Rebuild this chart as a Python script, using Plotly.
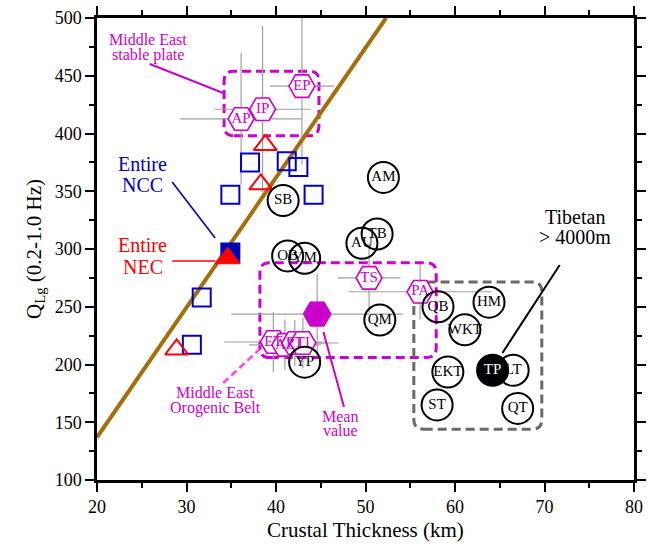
import plotly.graph_objects as go

# ---------------- data ----------------
# Blue open squares (NCC sub-regions)
ncc_x = [37.1, 41.2, 42.5, 44.2, 34.9, 31.7, 30.6]
ncc_y = [375, 376, 371, 347, 347, 258, 217]
# Red open triangles (NEC sub-regions)
nec_x = [38.8, 38.3, 28.9]
nec_y = [390, 356, 213]
# Entire NCC / NEC
entire_ncc = (34.9, 297)
entire_nec = (34.6, 292)

# Middle East stable plate (hexagons)
msp_labels = ["AP", "IP", "EP"]
msp_x = [36.1, 38.5, 42.9]
msp_y = [412.6, 421, 441]
msp_xerr = [6.8, 5.4, 3.6]
msp_yerr = [57, 72, 68]

# Middle East orogenic belt (hexagons)
mob_labels = ["TS", "PA", "ET", "AZ", "PT", "TI"]
mob_x = [50.4, 56.1, 39.7, 41.0, 42.1, 43.0]
mob_y = [275, 263, 219.5, 217, 218.6, 218.6]
mob_xerr = [3.5, 8.0, 5.5, 4.0, 3.5, 4.0]
mob_yerr = [30, 24, 26, 22, 20, 22]

# Mean value
mean_x, mean_y = 44.6, 243.7
mean_xerr, mean_yerr = 9.6, 35

# Chinese regions (circles)
circ_labels = ["AM", "SB", "AU", "TB", "OB", "YM", "QM", "YP",
               "QB", "HM", "WKT", "EKT", "LT", "ST", "QT"]
circ_x = [52.0, 40.8, 49.6, 51.3, 41.3, 43.2, 51.6, 43.2,
          58.1, 63.8, 61.1, 59.2, 66.5, 58.0, 67.0]
circ_y = [362, 342, 305, 313, 294, 292, 238.5, 202,
          250, 254, 230, 193.5, 195, 165, 162]
tp_x, tp_y = 64.2, 195

# Fitted line endpoints
fit_x = [20, 52.3]
fit_y = [137, 500]

# Grouping boxes: (x0, x1, y0, y1)
box_stable = (34.2, 44.8, 398, 454)
box_orogen = (38.2, 57.9, 206, 288)
box_tibet = (55.4, 69.7, 144, 271.5)

FONT = "Liberation Serif"
MAG = "rgb(204,0,204)"
BLUE = "rgb(0,0,200)"
RED = "rgb(255,0,0)"
GRAY = "rgb(160,160,160)"

fig = go.Figure()

# error bars (drawn first, beneath everything)
fig.add_trace(go.Scatter(
    x=msp_x + mob_x + [mean_x], y=msp_y + mob_y + [mean_y], mode="markers",
    marker=dict(size=1, opacity=0),
    error_x=dict(type="data", array=msp_xerr + mob_xerr + [mean_xerr], color=GRAY, thickness=1.2, width=0),
    error_y=dict(type="data", array=msp_yerr + mob_yerr + [mean_yerr], color=GRAY, thickness=1.2, width=0),
    hoverinfo="skip", showlegend=False))

# fitted line
fig.add_trace(go.Scatter(x=fit_x, y=fit_y, mode="lines",
                         line=dict(color="rgb(165,110,10)", width=4), showlegend=False))

# squares and triangles
fig.add_trace(go.Scatter(x=ncc_x, y=ncc_y, mode="markers",
                         marker=dict(symbol="square-open", size=18, color=BLUE, line=dict(width=2, color=BLUE)),
                         showlegend=False))
fig.add_trace(go.Scatter(x=nec_x, y=nec_y, mode="markers",
                         marker=dict(symbol="triangle-up-open", size=20, color=RED, line=dict(width=2, color=RED)),
                         showlegend=False))

# hexagons
hex_marker = dict(symbol="hexagon2", size=26, color="white", line=dict(width=1.6, color=MAG))
fig.add_trace(go.Scatter(x=msp_x, y=msp_y, mode="markers+text", text=msp_labels,
                         textposition="middle center", textfont=dict(family=FONT, size=15, color=MAG),
                         marker=hex_marker, showlegend=False))
fig.add_trace(go.Scatter(x=mob_x, y=mob_y, mode="markers+text", text=mob_labels,
                         textposition="middle center", textfont=dict(family=FONT, size=15, color=MAG),
                         marker=hex_marker, showlegend=False))
fig.add_trace(go.Scatter(x=[mean_x], y=[mean_y], mode="markers",
                         marker=dict(symbol="hexagon2", size=28, color=MAG, line=dict(width=1, color=MAG)),
                         showlegend=False))

# circles
fig.add_trace(go.Scatter(x=circ_x, y=circ_y, mode="markers+text", text=circ_labels,
                         textposition="middle center", textfont=dict(family=FONT, size=15, color="black"),
                         marker=dict(symbol="circle-open", size=31, color="black", line=dict(width=2, color="black")),
                         showlegend=False))
fig.add_trace(go.Scatter(x=[tp_x], y=[tp_y], mode="markers+text", text=["TP"],
                         textposition="middle center", textfont=dict(family=FONT, size=15, color="white"),
                         marker=dict(symbol="circle", size=31, color="black", line=dict(width=2, color="black")),
                         showlegend=False))

# entire NCC / NEC
fig.add_trace(go.Scatter(x=[entire_ncc[0]], y=[entire_ncc[1]], mode="markers",
                         marker=dict(symbol="square", size=18, color="rgb(0,0,170)", line=dict(width=2, color=BLUE)),
                         showlegend=False))
fig.add_trace(go.Scatter(x=[entire_nec[0]], y=[entire_nec[1]], mode="markers",
                         marker=dict(symbol="triangle-up", size=22, color=RED, line=dict(width=1, color=RED)),
                         showlegend=False))


def rrect(b, rx=1.1, ry=8.5):
    x0, x1, y0, y1 = b
    return (f"M{x0+rx},{y0} L{x1-rx},{y0} Q{x1},{y0} {x1},{y0+ry} L{x1},{y1-ry} "
            f"Q{x1},{y1} {x1-rx},{y1} L{x0+rx},{y1} Q{x0},{y1} {x0},{y1-ry} "
            f"L{x0},{y0+ry} Q{x0},{y0} {x0+rx},{y0} Z")


shapes = [
    dict(type="path", path=rrect(box_stable), line=dict(color=MAG, width=3, dash="9px,5px"), layer="below"),
    dict(type="path", path=rrect(box_orogen), line=dict(color=MAG, width=3, dash="9px,5px"), layer="below"),
    dict(type="path", path=rrect(box_tibet), line=dict(color="rgb(105,105,105)", width=3, dash="9px,5px"), layer="below"),
    # pointer lines
    dict(type="line", x0=25.9, y0=460.2, x1=34.1, y1=435.1, line=dict(color=MAG, width=2)),
    dict(type="line", x0=28.4, y0=358, x1=33.2, y1=309.5, line=dict(color=BLUE, width=1.6)),
    dict(type="line", x0=28.4, y0=289.6, x1=33.2, y1=289.6, line=dict(color=RED, width=1.6)),
    dict(type="line", x0=34.1, y0=184, x1=38.2, y1=213.4, line=dict(color="rgb(255,70,255)", width=2.5, dash="7px,4px")),
    dict(type="line", x0=45.3, y0=228.1, x1=47.6, y1=163.2, line=dict(color=MAG, width=2)),
    dict(type="line", x0=71.7, y0=286.1, x1=65.3, y1=210, line=dict(color="black", width=2)),
]

ann = []


def lines(xc, ys, texts, color, size):
    for yy, t in zip(ys, texts):
        ann.append(dict(x=xc, y=yy, text=t, showarrow=False, xanchor="center", yanchor="middle",
                        font=dict(family=FONT, size=size, color=color)))


lines(25.7, [481, 468], ["Middle East", "stable plate"], MAG, 16)
lines(25.1, [374, 355], ["Entire", "NCC"], BLUE, 20)
lines(25.1, [303.5, 284], ["Entire", "NEC"], RED, 20)
lines(33.2, [175.5, 162.5], ["Middle East", "Orogenic Belt"], MAG, 16)
lines(47.2, [155, 142.5], ["Mean", "value"], MAG, 16)
lines(73.4, [328, 310], ["Tibetan", "&gt; 4000m"], "black", 20)

axis_common = dict(showline=True, linewidth=2.5, linecolor="black", mirror="ticks",
                   ticks="outside", ticklen=9, tickwidth=1.5, tickcolor="black",
                   showgrid=False, zeroline=False, automargin=False, ticklabeloverflow="allow",
                   tickfont=dict(family=FONT, size=18, color="black"))

fig.update_layout(
    width=649, height=554,
    margin=dict(l=97, r=15, t=18, b=74),
    plot_bgcolor="white", paper_bgcolor="white",
    shapes=shapes, annotations=ann, showlegend=False,
    xaxis=dict(range=[20, 80], dtick=10, tick0=20,
               minor=dict(dtick=5, ticklen=5, ticks="outside", tickcolor="black", tickwidth=1.5),
               title=dict(text="Crustal Thickness (km)", font=dict(family=FONT, size=21, color="black"), standoff=6),
               **axis_common),
    yaxis=dict(range=[100, 500], dtick=50, tick0=100,
               minor=dict(dtick=25, ticklen=5, ticks="outside", tickcolor="black", tickwidth=1.5),
               title=dict(text="Q<sub>Lg</sub> (0.2-1.0 Hz)", font=dict(family=FONT, size=21, color="black"), standoff=8),
               **axis_common),
)

# remove the page's default body margin so the figure fills the window exactly
fig.write_html("out.html", config={"displayModeBar": False},
               post_script="document.body.style.margin='0';document.body.style.overflow='hidden';")
